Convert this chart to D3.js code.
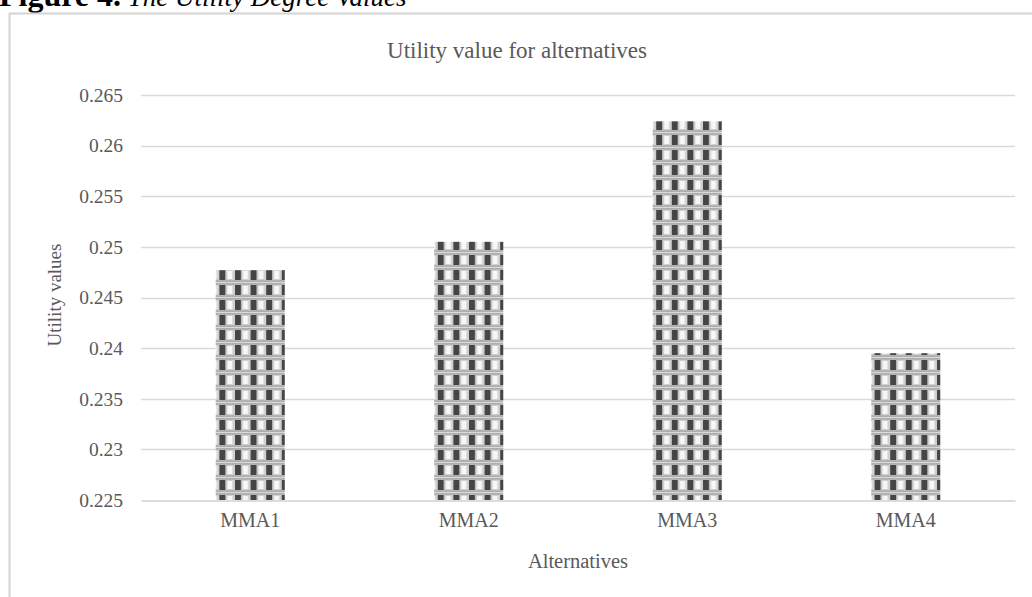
<!DOCTYPE html>
<html>
<head>
<meta charset="utf-8">
<script src="https://cdn.jsdelivr.net/npm/d3@7"></script>
<style>
  html, body { margin: 0; padding: 0; background: #fff; overflow: hidden; }
  svg { display: block; }
</style>
</head>
<body>
<svg id="chart" width="1032" height="597"></svg>
<script>
// Utility degree of each alternative
const categories = ["MMA1", "MMA2", "MMA3", "MMA4"];
const utilityValues = [0.2477, 0.2505, 0.2624, 0.2395];
const yTicks = [0.225, 0.23, 0.235, 0.24, 0.245, 0.25, 0.255, 0.26, 0.265];
const tickLabels = ["0.225", "0.23", "0.235", "0.24", "0.245", "0.25", "0.255", "0.26", "0.265"];

const svg = d3.select("#chart");
const serif = "'Liberation Serif', 'Times New Roman', serif";
const textColor = "#595959";

// Figure caption (runs off the top edge of the page)
const cap = svg.append("text")
  .attr("x", -1).attr("y", 6)
  .attr("font-family", serif).attr("fill", "#000");
cap.append("tspan").attr("font-weight", "bold").attr("font-size", 32).text("Figure 4.");
cap.append("tspan").attr("font-style", "italic").attr("font-size", 27).text(" The Utility Degree Values");

// Chart frame
const defs = svg.append("defs");
svg.append("rect")
  .attr("x", 9.5).attr("y", 13.5).attr("width", 1040).attr("height", 600)
  .attr("fill", "#fff").attr("stroke", "#d4d4d4").attr("stroke-width", 2);

// Bar fill pattern: dark blocks in columns with dotted bands between rows
const pw = 15.6, ph = 15;
const pat = defs.append("pattern").attr("id", "barPattern")
  .attr("patternUnits", "userSpaceOnUse")
  .attr("width", pw).attr("height", ph);
pat.append("rect").attr("width", pw).attr("height", ph).attr("fill", "#cfcfcf");
pat.append("rect").attr("x", 1).attr("y", 0).attr("width", 6).attr("height", 10).attr("fill", "#454545");
pat.append("rect").attr("x", 9).attr("y", 1).attr("width", 5).attr("height", 8).attr("fill", "#f7f7f7");
pat.append("rect").attr("x", 0).attr("y", 10.5).attr("width", pw).attr("height", 4).attr("fill", "#9a9a9a");
for (let i = 0; i < 8; i++) {
  pat.append("circle").attr("cx", i * pw / 8 + 1).attr("cy", 12.5).attr("r", 0.9).attr("fill", "#e6e6e6");
}

// Scales
const plot = { left: 141, right: 1015, top: 95, bottom: 500 };
const x = d3.scaleBand()
  .domain(categories)
  .range([plot.left, plot.right])
  .paddingInner(0.684)
  .paddingOuter(0.342);
const y = d3.scaleLinear()
  .domain([0.225, 0.265])
  .range([plot.bottom, plot.top]);

// Gridlines
svg.append("g")
  .selectAll("line")
  .data(yTicks.slice(1))
  .join("line")
  .attr("x1", plot.left).attr("x2", plot.right)
  .attr("y1", d => Math.round(y(d)) + 0.5).attr("y2", d => Math.round(y(d)) + 0.5)
  .attr("stroke", "#d9d9d9").attr("stroke-width", 1.5);

// Y axis labels
const yAxis = d3.axisLeft(y)
  .tickValues(yTicks)
  .tickFormat((d, i) => tickLabels[i])
  .tickSize(0)
  .tickPadding(18);
const yg = svg.append("g").attr("transform", `translate(${plot.left},0)`).call(yAxis);
yg.select(".domain").remove();
yg.selectAll("text")
  .attr("font-family", serif).attr("font-size", 19.5).attr("fill", textColor);

// Bars
svg.append("g")
  .selectAll("rect")
  .data(categories.map((c, i) => ({ c, v: utilityValues[i] })))
  .join("rect")
  .attr("x", d => x(d.c))
  .attr("width", x.bandwidth())
  .attr("y", d => y(d.v))
  .attr("height", d => y(0.225) - y(d.v))
  .attr("fill", "url(#barPattern)");

// X axis
const xAxis = d3.axisBottom(x).tickSize(0).tickPadding(12);
const xg = svg.append("g").attr("transform", `translate(0,${Math.round(y(0.225)) + 0.5})`).call(xAxis);
xg.select(".domain").attr("stroke", "#d0d0d0").attr("stroke-width", 1.5);
xg.selectAll("text")
  .attr("font-family", serif).attr("font-size", 20).attr("fill", textColor);

// Titles
svg.append("text")
  .attr("x", 517).attr("y", 58)
  .attr("text-anchor", "middle")
  .attr("font-family", serif).attr("font-size", 23).attr("fill", textColor)
  .text("Utility value for alternatives");

svg.append("text")
  .attr("x", (plot.left + plot.right) / 2).attr("y", 568)
  .attr("text-anchor", "middle")
  .attr("font-family", serif).attr("font-size", 20.5).attr("fill", textColor)
  .text("Alternatives");

svg.append("text")
  .attr("transform", `translate(61,${295}) rotate(-90)`)
  .attr("text-anchor", "middle")
  .attr("font-family", serif).attr("font-size", 19).attr("fill", textColor)
  .text("Utility values");
</script>
</body>
</html>
